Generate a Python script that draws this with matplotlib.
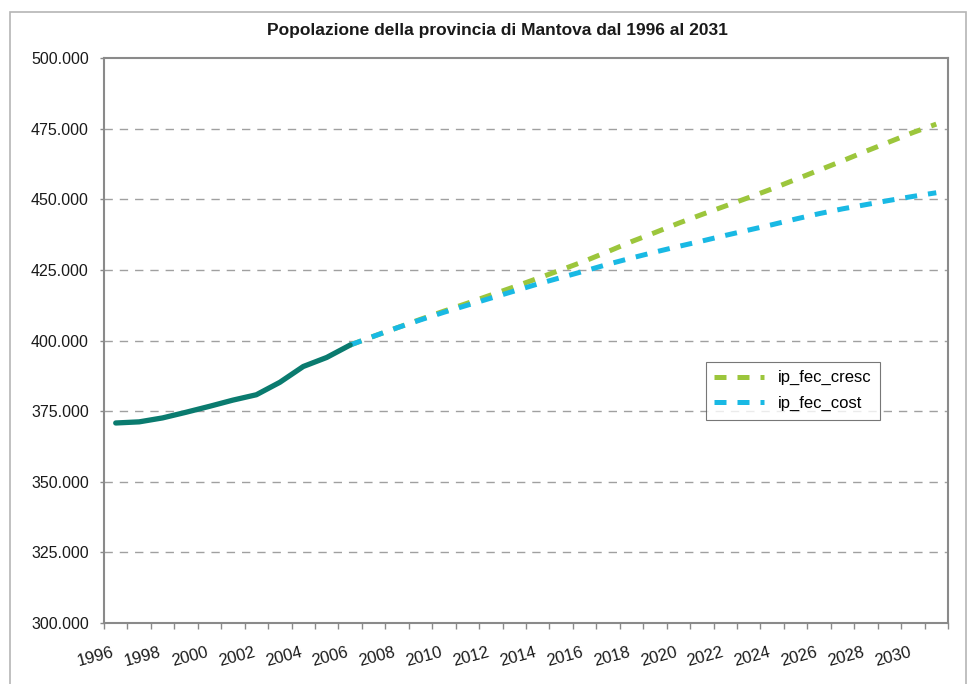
import matplotlib
matplotlib.use("Agg")
import matplotlib.pyplot as plt
from matplotlib.patches import Rectangle

# --- data ---
hist_years = list(range(1996, 2007))
hist_pop = [370800, 371200, 372600, 374600, 376700, 378900, 380800,
            385200, 390800, 394000, 398400]

proj_years = list(range(2006, 2032))
pop_cresc = [398400, 401500, 404500, 407500, 410400, 413200, 416100, 419000,
             422000, 425000, 428100, 431500, 435000, 438200, 441500, 444600,
             447600, 450600, 453700, 457000, 460300, 463600, 467000, 470300,
             473600, 476600]
pop_cost = [398400, 401500, 404500, 407300, 410000, 412500, 415000, 417500,
            420000, 422300, 424600, 427000, 429200, 431300, 433300, 435200,
            437200, 439100, 441000, 443000, 444900, 446600, 448100, 449600,
            451000, 452300]

series_labels = ["ip_fec_cresc", "ip_fec_cost"]
title = "Popolazione della provincia di Mantova dal 1996 al 2031"
y_ticks = [300000, 325000, 350000, 375000, 400000, 425000, 450000, 475000, 500000]
x_labels = list(range(1996, 2031, 2))

TEAL, GREEN, CYAN = "#0a7b6f", "#9cc63c", "#19b9e4"
FRAME, GRID, INK = "#8a8a8a", "#a0a0a0", "#1a1a1a"

plt.rcParams["font.family"] = ["Liberation Sans", "DejaVu Sans"]

fig = plt.figure(figsize=(9.7, 6.84), dpi=100, facecolor="white")
# chart-area border like the spreadsheet export
fig.patches.append(Rectangle((10 / 970, -0.05), 956 / 970, 1.05 - 12 / 684,
                             transform=fig.transFigure, fill=False,
                             edgecolor="#b5b5b5", lw=1.2))

ax = fig.add_axes([104 / 970, 1 - 623 / 684, 844 / 970, 565 / 684])

ax.plot(proj_years, pop_cresc, color=GREEN, lw=3.6, ls=(0, (2.4, 2.2)),
        dash_capstyle="butt", label=series_labels[0], zorder=3)
ax.plot(proj_years, pop_cost, color=CYAN, lw=3.6, ls=(0, (2.4, 2.2)),
        dash_capstyle="butt", label=series_labels[1], zorder=4)
ax.plot(hist_years, hist_pop, color=TEAL, lw=3.8, solid_capstyle="round",
        solid_joinstyle="round", zorder=5)

ax.set_xlim(1995.5, 2031.5)
ax.set_ylim(300000, 500000)

ax.set_yticks(y_ticks)
ax.set_yticklabels([f"{v:,}".replace(",", ".") for v in y_ticks])
ax.tick_params(axis="y", length=3, width=1, color=FRAME, pad=8,
               labelsize=11.5, labelcolor=INK)

ax.set_xticks(x_labels)
ax.set_xticklabels([str(y) for y in x_labels], rotation=15, ha="right")
ax.set_xticks([y + 0.5 for y in range(1995, 2032)], minor=True)
ax.tick_params(axis="x", which="major", length=0, pad=16, labelsize=12, labelcolor=INK)
ax.tick_params(axis="x", which="minor", length=4, width=1, color=FRAME)

for v in y_ticks[1:-1]:
    ax.axhline(v, color=GRID, lw=1, ls=(0, (6, 5)), zorder=1)

for sp in ax.spines.values():
    sp.set_color(FRAME)
    sp.set_linewidth(1.5)

fig.text(497 / 970, 1 - 30 / 684, title, fontsize=12.5, fontweight="bold",
         color=INK, ha="center", va="center")

leg = ax.legend(loc="upper left", bbox_to_anchor=(706 / 970, 1 - 362 / 684),
                bbox_transform=fig.transFigure, fontsize=12, frameon=True,
                fancybox=False, handlelength=3.0, handletextpad=0.8,
                borderpad=0.5, labelspacing=0.65, borderaxespad=0)
leg.get_frame().set_edgecolor("#555555")
leg.get_frame().set_linewidth(0.8)

fig.savefig("out.png", dpi=100, facecolor="white")
